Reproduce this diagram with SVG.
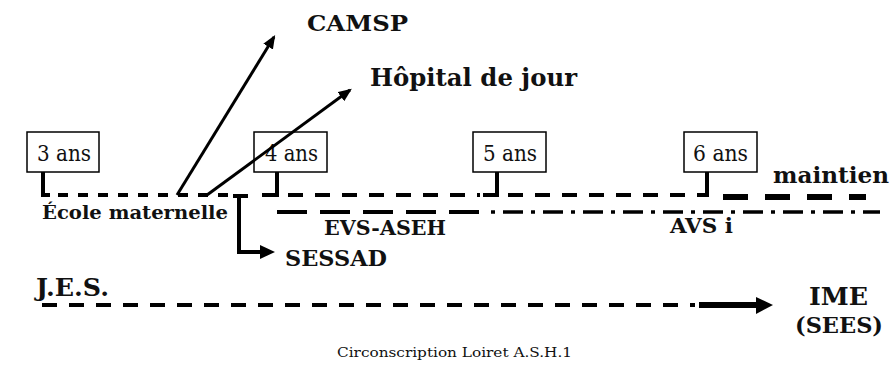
<svg xmlns="http://www.w3.org/2000/svg" width="894" height="365" viewBox="0 0 894 365">
<style>
  .box{fill:#fff;stroke:#000;stroke-width:1.5}
  text{font-family:'DejaVu Serif',serif;fill:#111}
  .age{font-size:22px}
  .lbl{font-weight:bold}
  .ln{fill:none;stroke:#000;stroke-width:4}
  .arr{fill:none;stroke:#000;stroke-width:3}
</style>
<defs>
  <marker id="ah" viewBox="0 0 12 10" refX="10" refY="5" markerWidth="4.5" markerHeight="4" markerUnits="strokeWidth" orient="auto">
    <path d="M0 0 L12 5 L0 10 Z" fill="#000"/>
  </marker>
</defs>
<rect width="894" height="365" fill="#fff"/>

<g id="connectors">
  <path class="ln" d="M43 172 V195 H50"/>
  <line class="ln" x1="58" y1="195" x2="228" y2="195" stroke-dasharray="10 10"/>
  <path class="ln" d="M233 196 H248 M239 196 V252 H262"/>
  <polygon points="260,245 275,252 260,259" fill="#000"/>
  <path class="ln" d="M277 172 V195 H262"/>
  <line class="ln" x1="288" y1="195" x2="480" y2="195" stroke-dasharray="15 12"/>
  <path class="ln" d="M497 172 V195 H483"/>
  <line class="ln" x1="508" y1="195" x2="700" y2="195" stroke-dasharray="15 12"/>
  <path class="ln" d="M707 172 V195 H700"/>
  <line x1="723" y1="197" x2="866" y2="197" stroke="#000" stroke-width="6" stroke-dasharray="25 17"/>
  <line class="ln" x1="277" y1="212" x2="485" y2="212" stroke-dasharray="30 13"/>
  <line x1="491" y1="212" x2="880" y2="212" stroke="#000" stroke-width="3.5" stroke-dasharray="4 8 20 8"/>
  <line class="ln" x1="42" y1="305" x2="695" y2="305" stroke-dasharray="15 12"/>
  <line x1="699" y1="305" x2="758" y2="305" stroke="#000" stroke-width="6"/>
  <polygon points="756,297 773,305 756,314" fill="#000"/>
</g>

<g id="n3ans"><rect class="box" x="27" y="132" width="72" height="40"/><text class="age" x="37" y="161" textLength="54" lengthAdjust="spacingAndGlyphs">3 ans</text></g>
<g id="n4ans"><rect class="box" x="254" y="132" width="73" height="40"/><text class="age" x="265" y="161" textLength="53" lengthAdjust="spacingAndGlyphs">4 ans</text></g>
<g id="n5ans"><rect class="box" x="473" y="132" width="73" height="40"/><text class="age" x="483" y="161" textLength="54" lengthAdjust="spacingAndGlyphs">5 ans</text></g>
<g id="n6ans"><rect class="box" x="684" y="132" width="73" height="40"/><text class="age" x="693" y="161" textLength="55" lengthAdjust="spacingAndGlyphs">6 ans</text></g>

<g id="arrows">
  <line class="arr" x1="177" y1="195" x2="274" y2="37" marker-end="url(#ah)"/>
  <line class="arr" x1="207" y1="195" x2="350" y2="90" marker-end="url(#ah)"/>
</g>

<g id="camsp"><text class="lbl" x="307" y="31" font-size="23" textLength="101" lengthAdjust="spacingAndGlyphs">CAMSP</text></g>
<g id="hopital"><text class="lbl" x="370" y="86" font-size="25" textLength="207" lengthAdjust="spacingAndGlyphs">Hôpital de jour</text></g>
<g id="maintien"><text class="lbl" x="773" y="183" font-size="22" textLength="116" lengthAdjust="spacingAndGlyphs">maintien</text></g>
<g id="ecole"><text class="lbl" x="42" y="219" font-size="19" textLength="186" lengthAdjust="spacingAndGlyphs">École maternelle</text></g>
<g id="evs"><text class="lbl" x="324" y="235" font-size="21" textLength="122" lengthAdjust="spacingAndGlyphs">EVS-ASEH</text></g>
<g id="avs"><text class="lbl" x="670" y="233" font-size="20" textLength="63" lengthAdjust="spacingAndGlyphs">AVS i</text></g>
<g id="sessad"><text class="lbl" x="285" y="266" font-size="23" textLength="102" lengthAdjust="spacingAndGlyphs">SESSAD</text></g>
<g id="jes"><text class="lbl" x="36" y="296" font-size="25" textLength="73" lengthAdjust="spacingAndGlyphs">J.E.S.</text></g>
<g id="ime"><text class="lbl" x="809" y="305" font-size="24" textLength="59" lengthAdjust="spacingAndGlyphs">IME</text><text class="lbl" x="795" y="333" font-size="23" textLength="88" lengthAdjust="spacingAndGlyphs">(SEES)</text></g>
<g id="credit"><text x="337" y="357" font-size="13" fill="#222" textLength="235" lengthAdjust="spacingAndGlyphs">Circonscription Loiret A.S.H.1</text></g>
</svg>
